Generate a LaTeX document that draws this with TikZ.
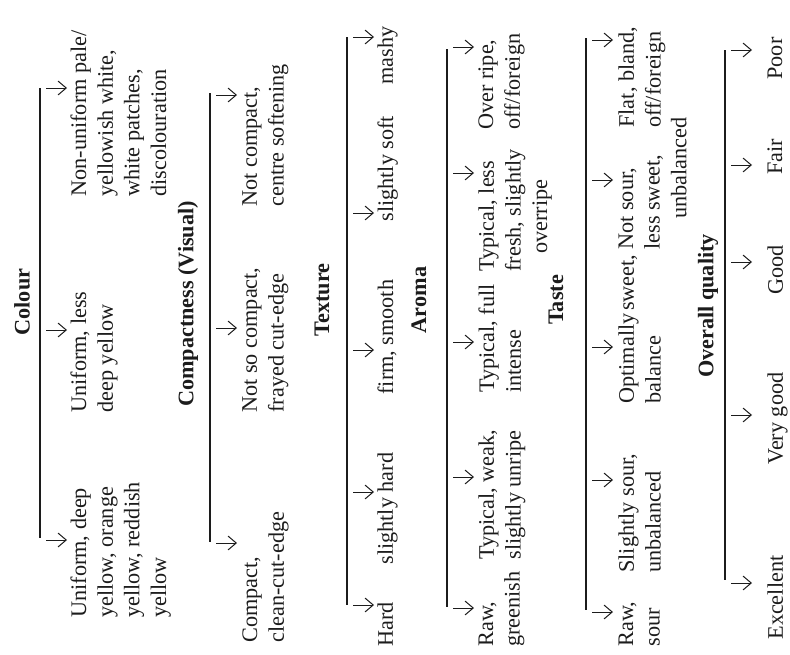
\documentclass[tikz,border=0pt]{standalone}
\usepackage{fontspec}
\setmainfont{Liberation Serif}
\usetikzlibrary{arrows.meta}
\definecolor{inkblack}{HTML}{1C1C1C}

\begin{document}
\begin{tikzpicture}[
  x=0.45pt, y=-0.45pt,
  >={Straight Barb[length=1.3mm, width=2.2mm]},
  headlbl/.style={rotate=90, font=\fontsize{10}{12}\selectfont\bfseries, text=inkblack, inner sep=0pt},
  optlbl/.style={rotate=90, anchor=north west, align=left, font=\fontsize{10}{12}\selectfont,
    text=inkblack, inner sep=0pt},
  scaleline/.style={draw=inkblack, line width=0.7pt},
  tick/.style={draw=inkblack, line width=0.45pt, ->},
]

% Background
\fill[white] (0,0) rectangle (790,654);
\useasboundingbox (0,0) rectangle (790,654);

% === Colour ===
\node[headlbl] (colour) at (22,302) {Colour};
\coordinate (colour-top) at (40,88);
\coordinate (colour-bot) at (40,538);
\draw[scaleline] (colour-top) -- (colour-bot);
\foreach \y [count=\i] in {540,330,88} {
  \coordinate (colour-a\i) at (46,\y);
  \coordinate (colour-b\i) at (67,\y);
  \draw[tick] (colour-a\i) -- (colour-b\i);
}
\node[optlbl] (colour-1) at (70,618) {Uniform, deep\\yellow, orange\\yellow, reddish\\yellow};
\node[optlbl] (colour-2) at (70,413) {Uniform, less\\deep yellow};
\node[optlbl] (colour-3) at (70,197) {Non-uniform pale/\\yellowish white,\\white patches,\\discolouration};

% === Compactness (Visual) ===
\node[headlbl] (compact) at (188,304) {Compactness (Visual)};
\coordinate (compact-top) at (210,93);
\coordinate (compact-bot) at (210,542);
\draw[scaleline] (compact-top) -- (compact-bot);
\foreach \y [count=\i] in {543,328,95} {
  \coordinate (compact-a\i) at (216,\y);
  \coordinate (compact-b\i) at (237,\y);
  \draw[tick] (compact-a\i) -- (compact-b\i);
}
\node[optlbl] (compact-1) at (242,643) {Compact,\\clean-cut-edge};
\node[optlbl] (compact-2) at (242,413) {Not so compact,\\frayed cut-edge};
\node[optlbl] (compact-3) at (242,207) {Not compact,\\centre softening};

% === Texture ===
\node[headlbl] (texture) at (322,300) {Texture};
\coordinate (texture-top) at (347,37);
\coordinate (texture-bot) at (347,605);
\draw[scaleline] (texture-top) -- (texture-bot);
\foreach \y [count=\i] in {605,492,350,213,37} {
  \coordinate (texture-a\i) at (353,\y);
  \coordinate (texture-b\i) at (374,\y);
  \draw[tick] (texture-a\i) -- (texture-b\i);
}
\node[optlbl] (texture-1) at (377,647) {Hard};
\node[optlbl] (texture-2) at (377,565) {slightly hard};
\node[optlbl] (texture-3) at (377,395) {firm, smooth};
\node[optlbl] (texture-4) at (377,222) {slightly soft};
\node[optlbl] (texture-5) at (377,85) {mashy};

% === Aroma ===
\node[headlbl] (aroma) at (419,300) {Aroma};
\coordinate (aroma-top) at (447,49);
\coordinate (aroma-bot) at (447,607);
\draw[scaleline] (aroma-top) -- (aroma-bot);
\foreach \y [count=\i] in {608,477,342,173,47} {
  \coordinate (aroma-a\i) at (453,\y);
  \coordinate (aroma-b\i) at (474,\y);
  \draw[tick] (aroma-a\i) -- (aroma-b\i);
}
\node[optlbl] (aroma-1) at (478,647) {Raw,\\greenish};
\node[optlbl] (aroma-2) at (478,560) {Typical, weak,\\slightly unripe};
\node[optlbl] (aroma-3) at (478,393) {Typical, full\\intense};
\node[optlbl] (aroma-4) at (478,272) {Typical, less\\fresh, slightly\\\hspace*{0.8em}overripe};
\node[optlbl] (aroma-5) at (478,130) {Over ripe,\\off/foreign};

% === Taste ===
\node[headlbl] (taste) at (556,300) {Taste};
\coordinate (taste-top) at (586,38);
\coordinate (taste-bot) at (586,610);
\draw[scaleline] (taste-top) -- (taste-bot);
\foreach \y [count=\i] in {612,480,347,180,40} {
  \coordinate (taste-a\i) at (592,\y);
  \coordinate (taste-b\i) at (613,\y);
  \draw[tick] (taste-a\i) -- (taste-b\i);
}
\node[optlbl] (taste-1) at (618,647) {Raw,\\sour};
\node[optlbl] (taste-2) at (618,573) {Slightly sour,\\unbalanced};
\node[optlbl] (taste-3) at (618,404) {Optimally\hspace{0.12em}sweet,\\balance};
\node[optlbl] (taste-4) at (618,250) {Not sour,\\less sweet,\\\hspace*{1.4em}unbalanced};
\node[optlbl] (taste-5) at (618,128) {Flat, bland,\\off/foreign};

% === Overall quality ===
\node[headlbl] (overall) at (708,306) {Overall quality};
\coordinate (overall-top) at (725,50);
\coordinate (overall-bot) at (725,580);
\draw[scaleline] (overall-top) -- (overall-bot);
\foreach \y [count=\i] in {583,415,262,165,50} {
  \coordinate (overall-a\i) at (731,\y);
  \coordinate (overall-b\i) at (752,\y);
  \draw[tick] (overall-a\i) -- (overall-b\i);
}
\node[optlbl] (overall-1) at (767,640) {Excellent};
\node[optlbl] (overall-2) at (767,465) {Very good};
\node[optlbl] (overall-3) at (767,295) {Good};
\node[optlbl] (overall-4) at (767,175) {Fair};
\node[optlbl] (overall-5) at (767,80) {Poor};

\end{tikzpicture}
\end{document}
